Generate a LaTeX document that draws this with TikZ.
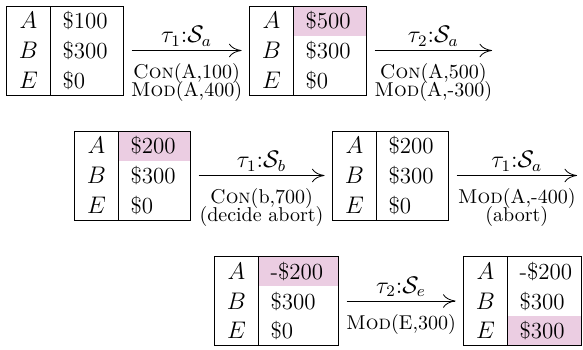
\documentclass[tikz,border=0pt]{standalone}
\usepackage{amsmath,amssymb}
\usepackage{tikz}
\usetikzlibrary{arrows.meta,matrix}
\usepackage{xcolor}
\definecolor{hlpink}{RGB}{235,205,226}

\tikzset{
  acct/.style={matrix of nodes,inner sep=0pt,outer sep=0pt,row sep=0pt,column sep=0pt,
    nodes={inner sep=0pt,outer sep=0pt,minimum height=14.8pt,text height=9pt,text depth=1pt,
      font=\fontsize{11.5}{13}\selectfont},
    column 1/.style={nodes={minimum width=22pt}},
    column 2/.style={nodes={text width=#1,inner xsep=6pt,align=left}}},
  acct/.default=24.5pt,
  hl/.style={fill=hlpink},
  step arrow/.style={-{To[length=2.2mm,width=2.4mm]},shorten <=4pt,shorten >=4pt},
  actlabel/.style={font=\large,inner sep=2pt},
  oplabel/.style={font=\normalsize,align=center,inner ysep=6.5pt},
}

\begin{document}
\begin{tikzpicture}[x=0.5pt,y=-0.5pt]
\useasboundingbox (0,0) rectangle (583,349);
% row 1
\matrix[acct] (t1) at (65,50.5) {
  $A$ & \$100 \\
  $B$ & \$300 \\
  $E$ & \$0 \\
};
\matrix[acct] (t2) at (308,50.5) {
  $A$ & |[hl]| \$500 \\
  $B$ & \$300 \\
  $E$ & \$0 \\
};
% row 2
\matrix[acct=24pt] (t3) at (132.5,175.5) {
  $A$ & |[hl]| \$200 \\
  $B$ & \$300 \\
  $E$ & \$0 \\
};
\matrix[acct=24pt] (t4) at (390.5,175.5) {
  $A$ & \$200 \\
  $B$ & \$300 \\
  $E$ & \$0 \\
};
% row 3
\matrix[acct=28pt] (t5) at (276.5,301) {
  $A$ & |[hl]| \mbox{-\$200} \\
  $B$ & \$300 \\
  $E$ & \$0 \\
};
\matrix[acct=25pt] (t6) at (522.5,301) {
  $A$ & \mbox{-\$200} \\
  $B$ & \$300 \\
  $E$ & |[hl]| \$300 \\
};
% borders
\foreach \t in {t1,t2,t3,t4,t5,t6} {
  \draw (\t.north west) rectangle (\t.south east);
  \draw (\t-1-1.north east) -- (\t-3-1.south east);
}
\coordinate (e2) at (500,50.5);
\coordinate (e4) at (585,175.5);
% transitions
\draw[step arrow] (t1) -- node[above,actlabel] (a1) {$\tau_1$:$\mathcal{S}_a$}
  node[below,oplabel] (b1) {\textsc{Con}(A,100)\\[-3pt]\textsc{Mod}(A,400)} (t2);
\draw[step arrow] (t2) -- node[above,actlabel] (a2) {$\tau_2$:$\mathcal{S}_a$}
  node[below,oplabel] (b2) {\textsc{Con}(A,500)\\[-3pt]\textsc{Mod}(A,-300)} (e2);
\draw[step arrow] (t3) -- node[above,actlabel] (a3) {$\tau_1$:$\mathcal{S}_b$}
  node[below,oplabel] (b3) {\textsc{Con}(b,700)\\[-3pt](decide abort)} (t4);
\draw[step arrow] (t4) -- node[above,actlabel] (a4) {$\tau_1$:$\mathcal{S}_a$}
  node[below,oplabel] (b4) {\textsc{Mod}(A,-400)\\[-3pt](abort)} (e4);
\draw[step arrow] (t5) -- node[above,actlabel] (a5) {$\tau_2$:$\mathcal{S}_e$}
  node[below,oplabel] (b5) {\textsc{Mod}(E,300)} (t6);
\end{tikzpicture}
\end{document}
